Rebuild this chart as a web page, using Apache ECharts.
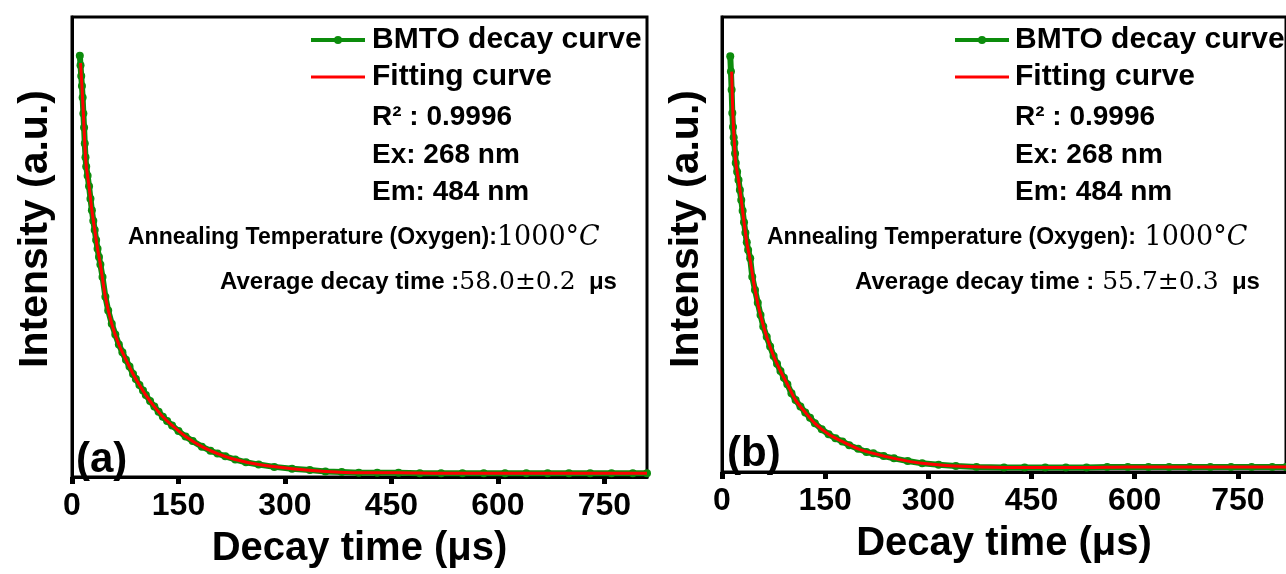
<!DOCTYPE html>
<html><head><meta charset="utf-8">
<script src="https://cdn.jsdelivr.net/npm/echarts@6/dist/echarts.min.js"></script>
<style>html,body{margin:0;padding:0;background:#fff}#c{width:1286px;height:574px}</style>
</head><body><div id="c"></div>
<script>
// ---- data ----
const xTicks = [0, 150, 300, 450, 600, 750];
const timeA = [11,12,13,14,15,16,17,18,19,20,22,24,26,28,30,32,34,36,38,40,43,47,51,56,61,66,71,76,81,86,90,95,100,104,110,116,122,128,134,141,150,160,170,183,195,205,216,230,245,263,285,310,335,357,380,404,430,460,490,520,550,580,610,640,670,700,730,760,790,810];
const decayA = [0.916,0.895,0.872,0.850,0.825,0.790,0.760,0.725,0.695,0.675,0.655,0.632,0.605,0.580,0.557,0.537,0.515,0.496,0.478,0.462,0.435,0.392,0.362,0.333,0.310,0.288,0.271,0.255,0.240,0.224,0.213,0.200,0.188,0.178,0.165,0.153,0.142,0.131,0.122,0.112,0.100,0.088,0.078,0.066,0.057,0.051,0.045,0.038,0.032,0.027,0.022,0.018,0.015,0.012,0.011,0.009,0.009,0.009,0.008,0.008,0.008,0.008,0.008,0.008,0.008,0.008,0.008,0.008,0.008,0.008];
const fitTimeA = [12,14,16,18,20,24,28,32,36,40,47,56,66,76,86,95,104,116,128,141,160,183,205,230,263,310,357,404,460,520,580,640,700,760,810];
const fitA = [0.900,0.850,0.790,0.725,0.677,0.632,0.580,0.537,0.496,0.462,0.392,0.333,0.288,0.255,0.224,0.200,0.178,0.153,0.131,0.112,0.088,0.066,0.051,0.038,0.027,0.018,0.012,0.009,0.009,0.008,0.008,0.008,0.008,0.008,0.008];

const timeB = [12,13,14,15,16,17,18,19,20,22,24,26,28,30,32,34,36,38,41,44,48,52,56,60,65,70,75,80,85,90,95,101,107,114,121,128,135,145,155,165,175,185,198,210,220,235,250,270,291,315,340,370,410,440,470,500,530,560,590,620,650,680,710,740,770,800,820];
const decayB = [0.914,0.880,0.840,0.789,0.758,0.735,0.723,0.700,0.679,0.660,0.642,0.620,0.598,0.574,0.549,0.526,0.505,0.488,0.470,0.429,0.400,0.372,0.345,0.320,0.297,0.276,0.255,0.238,0.222,0.207,0.193,0.173,0.158,0.144,0.131,0.119,0.107,0.094,0.083,0.074,0.067,0.059,0.051,0.044,0.041,0.035,0.030,0.024,0.019,0.016,0.013,0.011,0.010,0.010,0.010,0.010,0.010,0.011,0.011,0.011,0.011,0.011,0.011,0.011,0.011,0.011,0.011];
const fitTimeB = [14,16,18,20,24,28,32,36,41,48,56,65,75,85,95,107,121,135,155,175,198,220,250,291,340,410,470,530,590,650,710,770,820];
const fitB = [0.880,0.780,0.723,0.680,0.642,0.598,0.549,0.505,0.465,0.400,0.345,0.297,0.255,0.222,0.193,0.158,0.131,0.107,0.083,0.067,0.051,0.041,0.030,0.019,0.013,0.010,0.010,0.010,0.011,0.011,0.011,0.011,0.011];

const panels = [
  {label:'(a)', r2:'0.9996', ex:'268', em:'484', temp:'1000°', avg:'58.0±0.2'},
  {label:'(b)', r2:'0.9996', ex:'268', em:'484', temp:' 1000°', avg:' 55.7±0.3'}
];
const legendNames = ['BMTO decay curve', 'Fitting curve'];

// ---- chart ----
const GREEN = '#0c8c0c', RED = '#ff0000';
const SANS = 'Liberation Sans, Arial, sans-serif';
const SERIF = '"DejaVu Serif", "Liberation Serif", serif';
const pairs = (t, v) => t.map((x, i) => [x, v[i]]);

const grids = [
  {left: 72, top: 17, width: 575, height: 462},
  {left: 722, top: 17, width: 576, height: 455}
];
const xAxes = grids.map((g, i) => ({
  type: 'value', gridIndex: i, min: 0, max: i === 0 ? 810 : 820, interval: 150,
  name: 'Decay time (μs)', nameLocation: 'middle', nameGap: 52,
  nameTextStyle: {fontFamily: SANS, fontWeight: 'bold', fontSize: 40, color: '#000'},
  axisLine: {lineStyle: {color: '#000', width: 3}},
  axisTick: {show: true, length: 7, inside: false, lineStyle: {color: '#000', width: 5}, customValues: xTicks},
  axisLabel: {fontFamily: SANS, fontWeight: 'bold', fontSize: 32, color: '#000', margin: 13, customValues: xTicks},
  splitLine: {show: false}
}));
const yAxes = grids.map((g, i) => ({
  type: 'value', gridIndex: i, min: 0, max: 1,
  axisLine: {show: true, lineStyle: {color: '#000', width: 3}},
  axisTick: {show: false}, axisLabel: {show: false}, splitLine: {show: false}
}));

const series = [];
[[timeA, decayA, fitTimeA, fitA], [timeB, decayB, fitTimeB, fitB]].forEach((d, i) => {
  series.push({
    type: 'line', name: legendNames[0], xAxisIndex: i, yAxisIndex: i,
    data: pairs(d[0], d[1]), symbol: 'circle', symbolSize: 8, showAllSymbol: true,
    itemStyle: {color: GREEN}, lineStyle: {color: GREEN, width: 6}, z: 2
  });
  series.push({
    type: 'line', name: legendNames[1], xAxisIndex: i, yAxisIndex: i,
    data: pairs(d[2], d[3]), showSymbol: false, smooth: 0.3,
    lineStyle: {color: RED, width: 3}, z: 3
  });
});

const graphic = [];
const legX = [311, 955], txtX = [372, 1015];
const annX = [128, 767], avgX = [220, 855], yTitleX = [36, 687];
panels.forEach((p, i) => {
  const lx = legX[i], tx = txtX[i];
  graphic.push({type: 'line', shape: {x1: lx, y1: 40, x2: lx + 54, y2: 40}, style: {stroke: GREEN, lineWidth: 4}});
  graphic.push({type: 'circle', shape: {cx: lx + 27, cy: 40, r: 4}, style: {fill: GREEN}});
  graphic.push({type: 'line', shape: {x1: lx, y1: 77, x2: lx + 54, y2: 77}, style: {stroke: RED, lineWidth: 3}});
  graphic.push({type: 'text', x: tx, y: 40, style: {text: legendNames[0], font: 'bold 30px ' + SANS, fill: '#000', verticalAlign: 'middle'}});
  graphic.push({type: 'text', x: tx, y: 77, style: {text: legendNames[1], font: 'bold 30px ' + SANS, fill: '#000', verticalAlign: 'middle'}});
  const lines = [['R² : ' + p.r2, 117], ['Ex: ' + p.ex + ' nm', 155], ['Em: ' + p.em + ' nm', 192]];
  lines.forEach(l => graphic.push({type: 'text', x: tx, y: l[1], style: {text: l[0], font: 'bold 28px ' + SANS, fill: '#000', verticalAlign: 'middle', align: 'left'}}));
  graphic.push({type: 'text', x: annX[i], y: 238, style: {
    text: '{a|Annealing Temperature (Oxygen):}{b|' + p.temp + '}{c|C}', verticalAlign: 'middle', align: 'left',
    rich: {a: {font: 'bold 23px ' + SANS, fill: '#000'}, b: {font: '27px ' + SERIF, fill: '#000'}, c: {font: 'italic 27px ' + SERIF, fill: '#000'}}
  }});
  graphic.push({type: 'text', x: avgX[i], y: 282, style: {
    text: '{a|Average decay time :}{b|' + p.avg + '}{a|  μs}', verticalAlign: 'middle', align: 'left',
    rich: {a: {font: 'bold 24px ' + SANS, fill: '#000'}, b: {font: '25px ' + SERIF, fill: '#000'}}
  }});
  graphic.push({type: 'text', x: i === 0 ? 76 : 727, y: i === 0 ? 460 : 454, style: {text: p.label, font: 'bold 42px ' + SANS, fill: '#000', verticalAlign: 'middle'}});
  graphic.push({type: 'text', x: yTitleX[i], y: 229, rotation: Math.PI / 2, style: {text: 'Intensity (a.u.)', font: 'bold 41px ' + SANS, fill: '#000', align: 'center', verticalAlign: 'middle'}});
});

const chart = echarts.init(document.getElementById('c'), null, {renderer: 'canvas'});
chart.setOption({
  animation: false,
  backgroundColor: '#fff',
  grid: grids.map(g => Object.assign({show: true, borderColor: '#000', borderWidth: 3, backgroundColor: 'transparent'}, g)),
  xAxis: xAxes, yAxis: yAxes, series, graphic
});
</script></body></html>
